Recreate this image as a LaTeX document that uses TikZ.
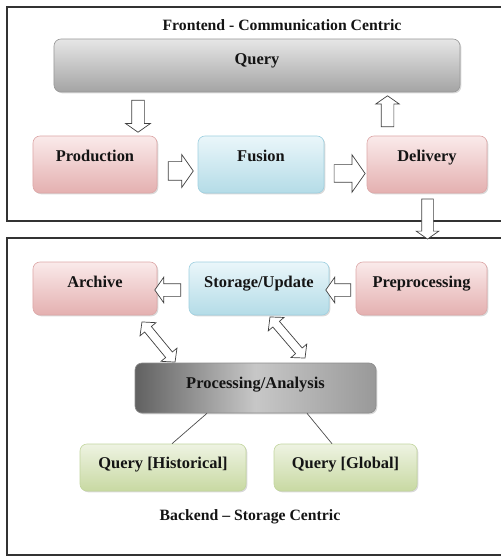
\documentclass[tikz,border=0pt]{standalone}
\usepackage{fontspec}
\setmainfont{Liberation Serif}
\usetikzlibrary{shapes.arrows,shadows,calc}

\definecolor{pinktop}{HTML}{FAEAEA}
\definecolor{pinkbot}{HTML}{E4B0B0}
\definecolor{pinkline}{HTML}{DDA8A8}
\definecolor{bluetop}{HTML}{EAF6FA}
\definecolor{bluebot}{HTML}{B4DCE7}
\definecolor{blueline}{HTML}{9FD0E0}
\definecolor{greentop}{HTML}{EEF3E2}
\definecolor{greenbot}{HTML}{C8D9A2}
\definecolor{greenline}{HTML}{C2D59E}
\definecolor{graytop}{HTML}{E6E6E6}
\definecolor{graybot}{HTML}{A4A4A4}

\tikzset{
  box/.style={rounded corners=7bp, draw, line width=0.6bp, inner sep=0pt,
    text height=11bp, font=\fontsize{16.5}{19}\selectfont\bfseries, text=black!92,
    drop shadow={shadow xshift=1.3bp, shadow yshift=-1.3bp, opacity=0.3}},
  pinkbox/.style={box, draw=pinkline, top color=pinktop, bottom color=pinkbot},
  bluebox/.style={box, draw=blueline, top color=bluetop, bottom color=bluebot},
  greenbox/.style={box, draw=greenline, top color=greentop, bottom color=greenbot},
  graybox/.style={box, draw=black!40, top color=graytop, bottom color=graybot},
  darkbox/.style={box, draw=black!45, left color=black!62, right color=black!40, middle color=black!22},
  blockarrow/.style={single arrow, draw=black!75, fill=white, line width=0.7bp,
    inner xsep=0pt, single arrow tip angle=110},
  dblarrow/.style={double arrow, draw=black!75, fill=white, line width=0.7bp,
    inner xsep=0pt, inner ysep=4bp, double arrow tip angle=95, double arrow head extend=6bp},
  frame/.style={draw=black!80, line width=1.2bp},
  heading/.style={font=\fontsize{15.8}{18}\selectfont\bfseries, text=black!92},
  link/.style={draw=black!70, line width=0.7bp}
}

\begin{document}
\begin{tikzpicture}[x=1bp, y=-1bp]
  \useasboundingbox (0,0) rectangle (501,556);
  \draw[frame] (504,7) -- (7,7) -- (7,221) -- (504,221);
  \draw[frame] (504,238) -- (7,238) -- (7,555) -- (504,555);

  \node[heading] (fronttitle) at (282,25) {Frontend - Communication Centric};
  \node[heading] (backtitle) at (250,517) {Backend -- Storage Centric};

  \node[graybox, minimum width=406bp, minimum height=53bp, text depth=12bp] (query) at (257,65.5) {Query};
  \node[pinkbox, minimum width=124bp, minimum height=57bp, text depth=16bp] (production) at (95,164.5) {Production};
  \node[bluebox, minimum width=126bp, minimum height=57bp, text depth=16bp] (fusion) at (261,164.5) {Fusion};
  \node[pinkbox, minimum width=120bp, minimum height=57bp, text depth=16bp] (delivery) at (427,164.5) {Delivery};

  \node[pinkbox, minimum width=124bp, minimum height=53bp, text depth=14bp] (archive) at (95,288.5) {Archive};
  \node[bluebox, minimum width=140bp, minimum height=53bp, text depth=14bp] (storage) at (259,288.5) {Storage/Update};
  \node[pinkbox, minimum width=131bp, minimum height=53bp, text depth=14bp] (preproc) at (421.5,288.5) {Preprocessing};
  \node[darkbox, minimum width=241bp, minimum height=50bp, text depth=11bp] (analysis) at (255.5,388) {Processing/Analysis};
  \node[greenbox, minimum width=166bp, minimum height=47bp, text depth=10bp] (qhist) at (163,467.5) {Query [Historical]};
  \node[greenbox, minimum width=143bp, minimum height=47bp, text depth=10bp] (qglob) at (345.5,467.5) {Query [Global]};

  \node[blockarrow, rotate=-90, minimum height=32bp, inner ysep=6bp, single arrow head extend=6bp] (qtop) at (138,114) {};
  \node[blockarrow, minimum height=25bp, inner ysep=9bp, single arrow head extend=7bp] (ptof) at (177.5,171) {};
  \node[blockarrow, minimum height=31bp, inner ysep=8.5bp, single arrow head extend=10bp] (ftod) at (346.5,173.5) {};
  \node[blockarrow, rotate=90, minimum height=31bp, inner ysep=6bp, single arrow head extend=5.5bp] (dtoq) at (387.5,113.5) {};
  \node[blockarrow, rotate=-90, minimum height=40bp, inner ysep=5.5bp, single arrow head extend=5.5bp] (dtob) at (427.5,217) {};
  \node[blockarrow, rotate=180, minimum height=26bp, inner ysep=6bp, single arrow head extend=6.5bp] (stoa) at (170,290) {};
  \node[blockarrow, rotate=180, minimum height=25bp, inner ysep=6bp, single arrow head extend=6.5bp] (ptos) at (340.5,290) {};
  \node[dblarrow, rotate=-50.5, minimum height=52bp] (atop) at (158.5,342) {};
  \node[dblarrow, rotate=-49.5, minimum height=54bp] (stop) at (287.5,337.5) {};

  \begin{scope}[link]
    \draw ($(analysis.south)+(-48.5,0)$) -- ($(qhist.north)+(9,0)$);
    \draw ($(analysis.south)+(51.5,0)$) -- ($(qglob.north)+(-13.5,0)$);
  \end{scope}
\end{tikzpicture}
\end{document}
